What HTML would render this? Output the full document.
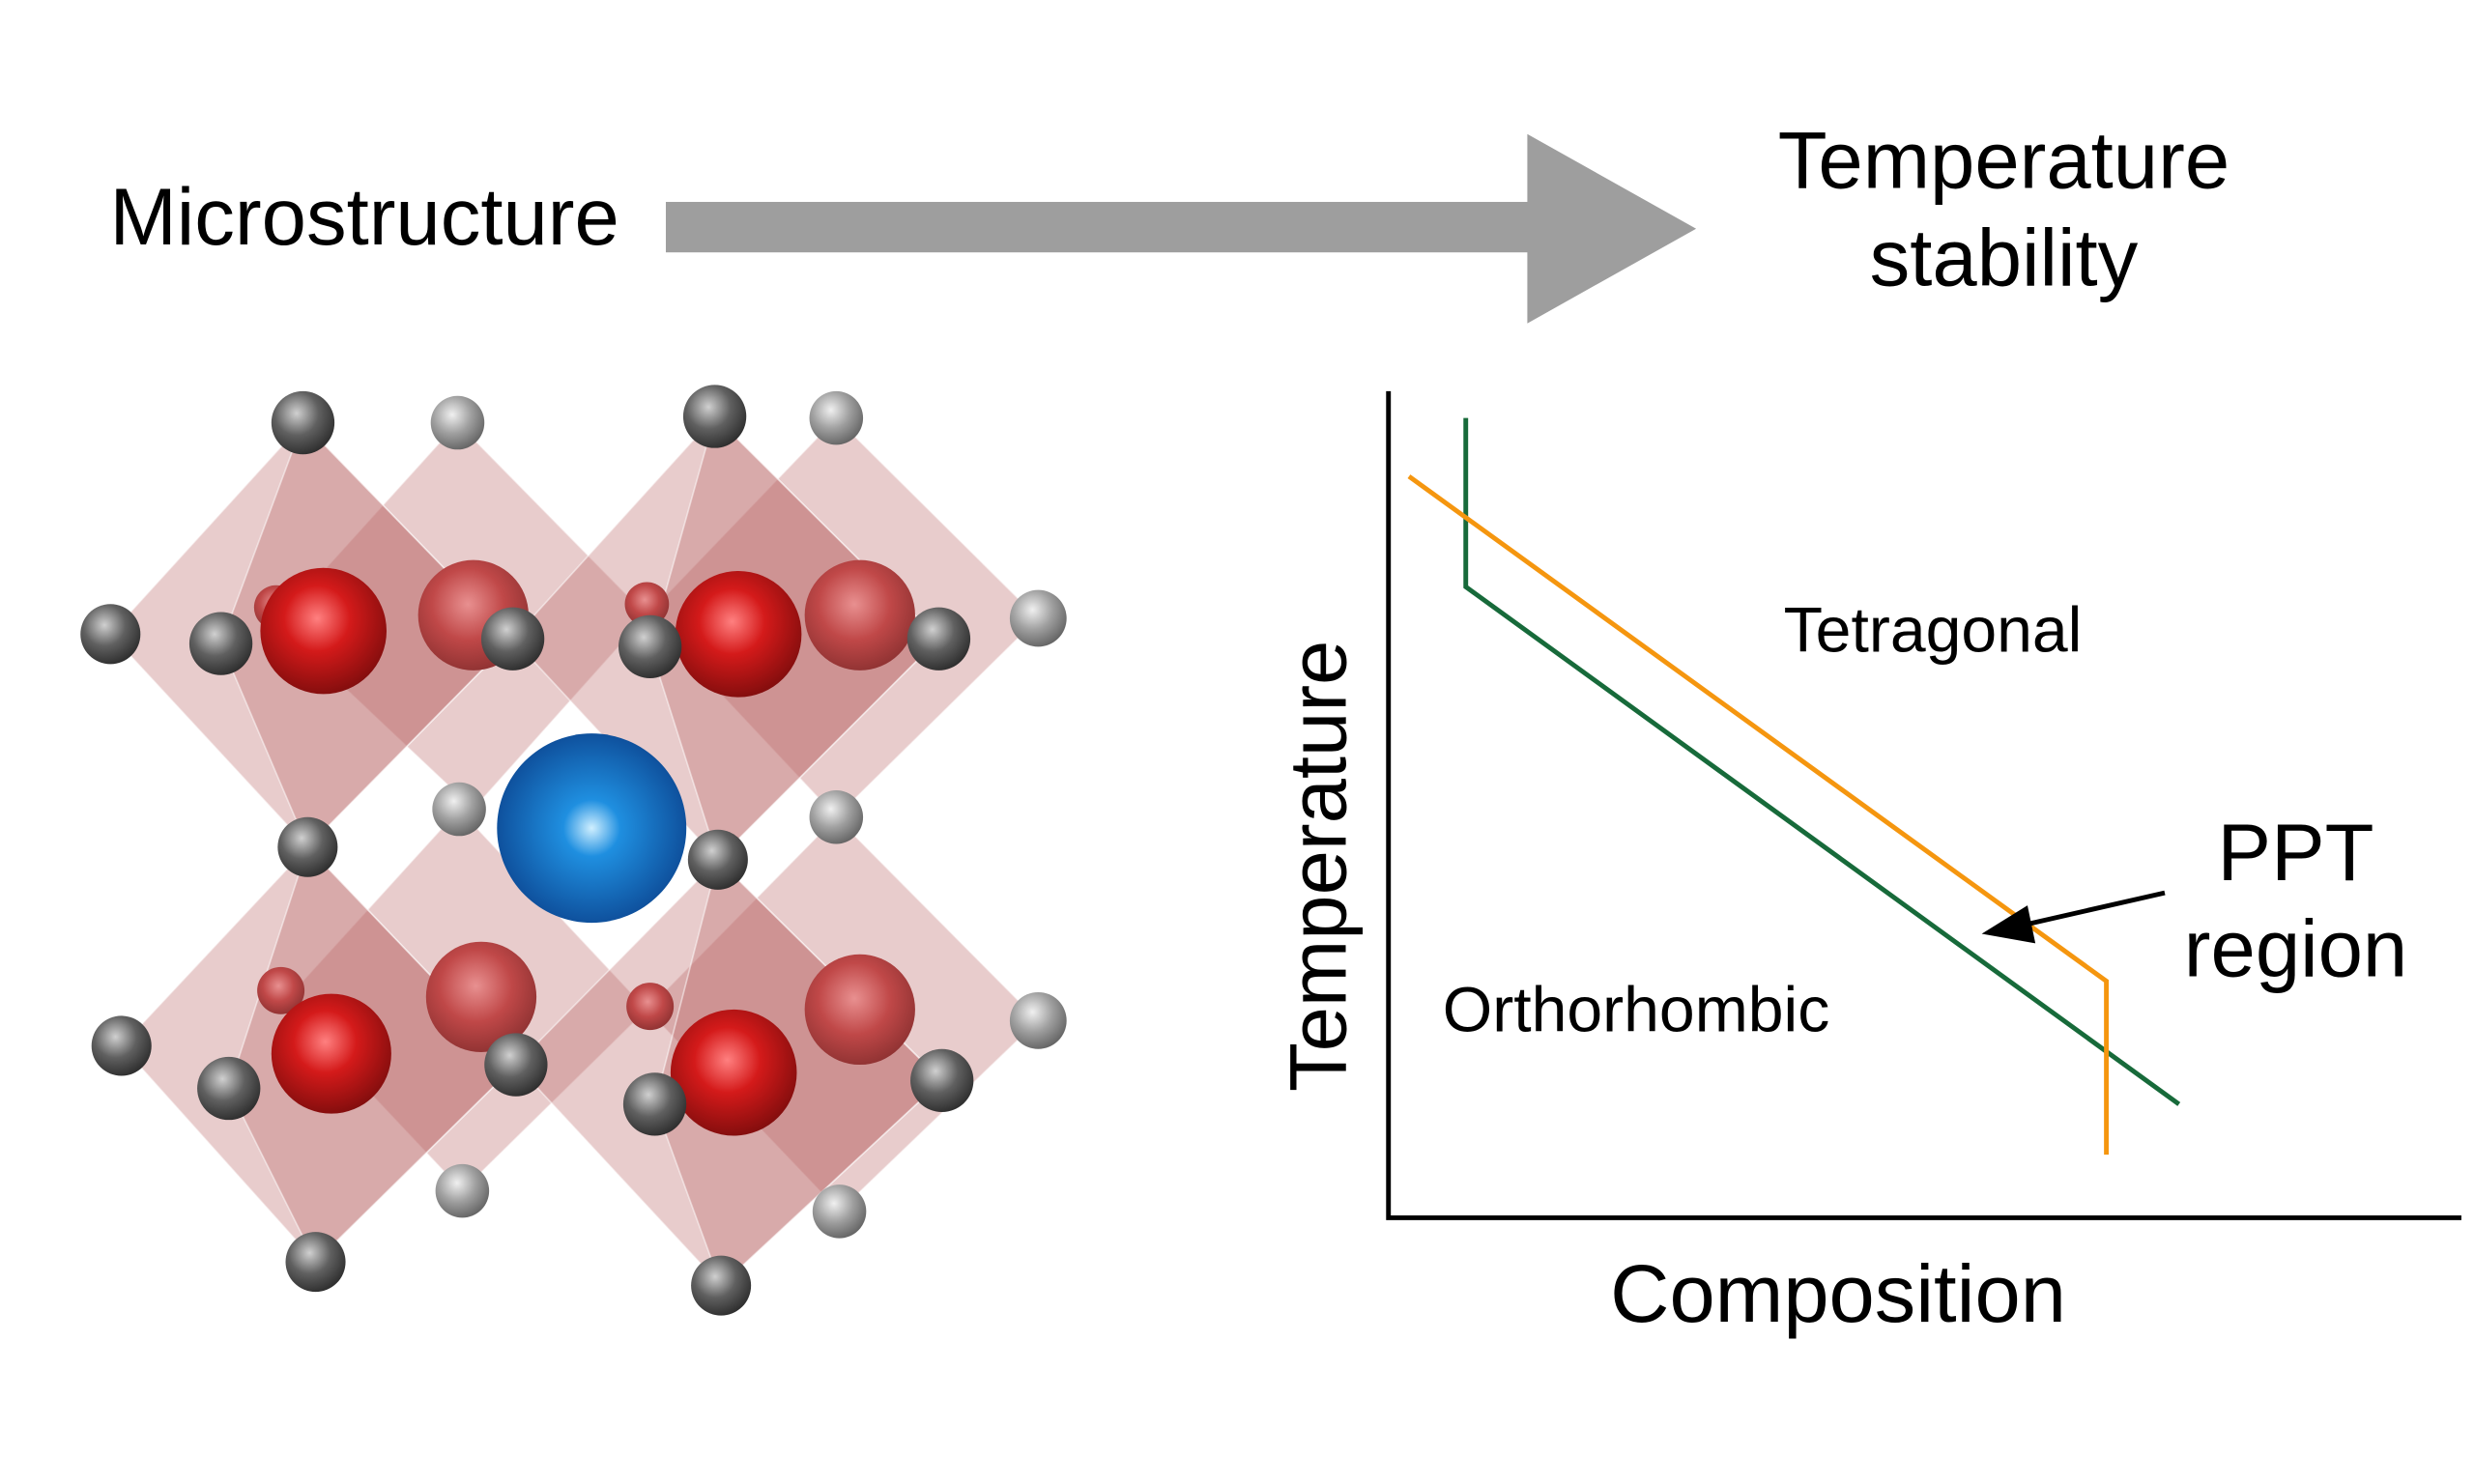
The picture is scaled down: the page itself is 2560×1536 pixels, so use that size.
<!DOCTYPE html>
<html><head><meta charset="utf-8"><style>
html,body{margin:0;padding:0;background:#fff;}
svg{display:block}
text{font-family:"Liberation Sans",Arial,sans-serif;fill:#000}
</style></head><body>
<svg width="2560" height="1536" viewBox="0 0 1568 940.8" xmlns="http://www.w3.org/2000/svg">
<defs>
<radialGradient id="gr" cx="0.4" cy="0.35" r="0.7"><stop offset="0" stop-color="#d0d0d0"/><stop offset="0.5" stop-color="#606060"/><stop offset="1" stop-color="#2a2a2a"/></radialGradient>
<radialGradient id="gl" cx="0.4" cy="0.35" r="0.7"><stop offset="0" stop-color="#f0f0f0"/><stop offset="0.5" stop-color="#a0a0a0"/><stop offset="1" stop-color="#606060"/></radialGradient>
<radialGradient id="rd" cx="0.45" cy="0.4" r="0.65"><stop offset="0" stop-color="#ff8080"/><stop offset="0.4" stop-color="#d41a1a"/><stop offset="1" stop-color="#7a0c0c"/></radialGradient>
<radialGradient id="rb" cx="0.45" cy="0.4" r="0.65"><stop offset="0" stop-color="#e89090"/><stop offset="0.5" stop-color="#c04848"/><stop offset="1" stop-color="#8a3030"/></radialGradient>
<radialGradient id="bl" cx="0.5" cy="0.5" r="0.6"><stop offset="0" stop-color="#cfefff"/><stop offset="0.25" stop-color="#1f8fe0"/><stop offset="1" stop-color="#0a3f8a"/></radialGradient>
</defs>
<text x="231" y="155" font-size="51" text-anchor="middle">Microstructure</text>
<rect x="422" y="128" width="550" height="32" fill="#9e9e9e"/>
<polygon points="968,85 1075,145 968,205" fill="#9e9e9e"/>
<text x="1270" y="119" font-size="51" text-anchor="middle">Temperature</text>
<text x="1270" y="181" font-size="51" text-anchor="middle">stability</text>
<!-- chart -->
<polyline points="880,248 880,772 1560,772" fill="none" stroke="#000" stroke-width="3"/>
<polyline points="929,265 929,372 1381,700" fill="none" stroke="#176a3a" stroke-width="3"/>
<polyline points="893,302 1335,622 1335,732" fill="none" stroke="#f5960f" stroke-width="3"/>
<text x="1225" y="413" font-size="40.5" text-anchor="middle">Tetragonal</text>
<text x="1037" y="654" font-size="40.5" text-anchor="middle">Orthorhombic</text>
<text transform="translate(853,549) rotate(-90)" font-size="51" text-anchor="middle">Temperature</text>
<text x="1165" y="838" font-size="52" text-anchor="middle">Composition</text>
<text x="1455" y="558" font-size="51" text-anchor="middle">PPT</text>
<text x="1455" y="619" font-size="51" text-anchor="middle">region</text>
<line x1="1372" y1="566" x2="1280" y2="587" stroke="#000" stroke-width="3"/>
<polygon points="1256,592 1285,574 1290,598" fill="#000"/>
<!-- crystal -->
<g fill="rgba(185,100,100,0.33)" stroke="rgba(255,255,255,0.5)" stroke-width="1">
<polygon points="290,268 410,390 300,513 175,395"/>
<polygon points="530,265 658,392 530,518 410,390"/>
<polygon points="291,513 410,640 293,755 180,635"/>
<polygon points="530,518 658,647 532,768 410,640"/>
<polygon points="192,268 325,405 195,537 70,402"/>
<polygon points="453,264 595,405 455,545 325,405"/>
<polygon points="195,537 327,675 200,800 77,663"/>
<polygon points="455,545 597,685 457,815 327,675"/>
<polygon points="192,268 325,405 195,537 140,408"/>
<polygon points="453,264 595,405 455,545 412,410"/>
<polygon points="195,537 327,675 200,800 145,690"/>
<polygon points="455,545 597,685 457,815 415,700"/>
</g>
<g>
<circle cx="300" cy="390" r="35" fill="url(#rb)"/>
<circle cx="545" cy="390" r="35" fill="url(#rb)"/>
<circle cx="305" cy="632" r="35" fill="url(#rb)"/>
<circle cx="545" cy="640" r="35" fill="url(#rb)"/>
<circle cx="178" cy="628" r="15" fill="url(#rb)"/>
<circle cx="412" cy="638" r="15" fill="url(#rb)"/>
<circle cx="175" cy="385" r="14" fill="url(#rb)"/>
<circle cx="410" cy="383" r="14" fill="url(#rb)"/>
</g>
<g fill="url(#gl)">
<circle cx="290" cy="268" r="17"/><circle cx="530" cy="265" r="17"/><circle cx="291" cy="513" r="17"/><circle cx="530" cy="518" r="17"/><circle cx="658" cy="392" r="18"/><circle cx="658" cy="647" r="18"/><circle cx="293" cy="755" r="17"/><circle cx="532" cy="768" r="17"/>
</g>
<circle cx="375" cy="525" r="60" fill="url(#bl)"/>
<g>
<circle cx="205" cy="400" r="40" fill="url(#rd)"/>
<circle cx="468" cy="402" r="40" fill="url(#rd)"/>
<circle cx="210" cy="668" r="38" fill="url(#rd)"/>
<circle cx="465" cy="680" r="40" fill="url(#rd)"/>
</g>
<g fill="url(#gr)">
<circle cx="192" cy="268" r="20"/><circle cx="453" cy="264" r="20"/>
<circle cx="70" cy="402" r="19"/><circle cx="140" cy="408" r="20"/><circle cx="325" cy="405" r="20"/><circle cx="412" cy="410" r="20"/><circle cx="595" cy="405" r="20"/>
<circle cx="195" cy="537" r="19"/><circle cx="455" cy="545" r="19"/>
<circle cx="77" cy="663" r="19"/><circle cx="145" cy="690" r="20"/><circle cx="327" cy="675" r="20"/><circle cx="415" cy="700" r="20"/><circle cx="597" cy="685" r="20"/>
<circle cx="200" cy="800" r="19"/><circle cx="457" cy="815" r="19"/>
</g>
</svg>
</body></html>
